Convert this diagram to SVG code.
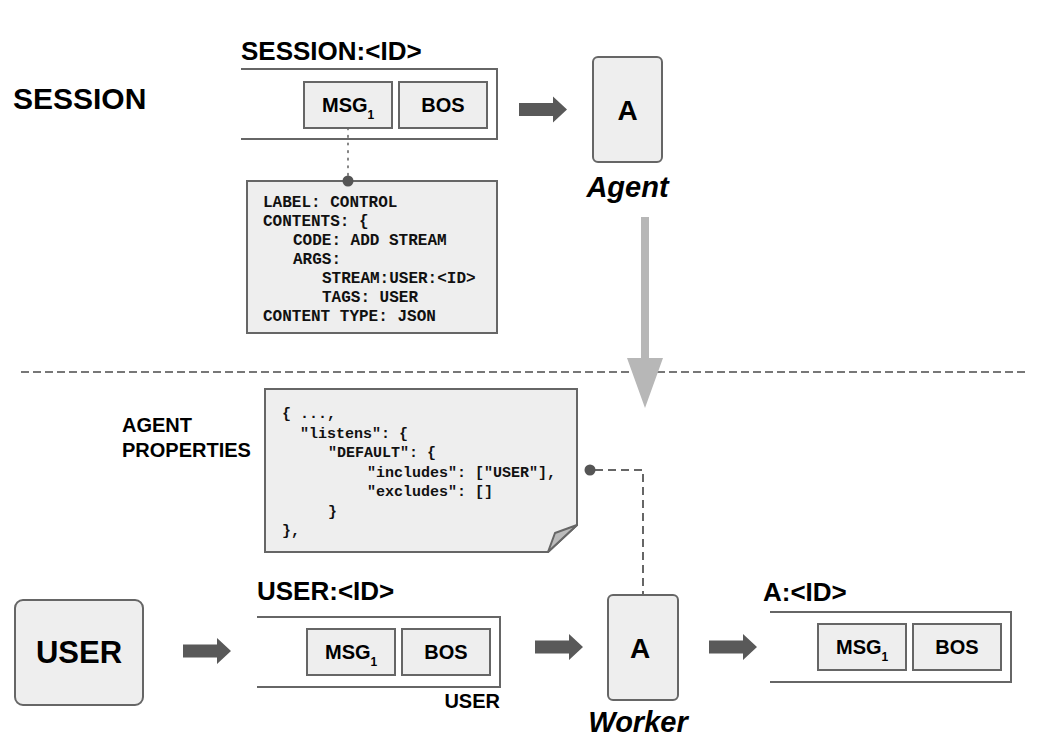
<svg xmlns="http://www.w3.org/2000/svg" width="1044" height="752" viewBox="0 0 1044 752">
<style>
.box{fill:#eeeeee;stroke:#666666;stroke-width:2}
.strm{fill:none;stroke:#666666;stroke-width:2}
.t{font-family:"Liberation Sans",Arial,sans-serif;font-weight:bold;fill:#000}
.bi{font-family:"Liberation Sans",Arial,sans-serif;font-weight:bold;font-style:italic;fill:#000}
.m{font-family:"Liberation Mono","Courier New",monospace;font-weight:bold;fill:#111}
.fat{fill:#595959}
.dash{fill:none;stroke:#666666;stroke-width:2;stroke-dasharray:8 5}
</style>
<defs>
<polygon id="fat" points="0,-6.5 34,-6.5 34,-13 48,0 34,13 34,6.5 0,6.5"/>
</defs>
<rect width="1044" height="752" fill="#ffffff"/>

<g id="labels">
<text class="t" x="13" y="109" font-size="30">SESSION</text>
<text class="t" x="122" y="432" font-size="20">AGENT</text>
<text class="t" x="122" y="457" font-size="20">PROPERTIES</text>
</g>

<g id="separator">
<line x1="21" y1="372" x2="1028" y2="372" stroke="#777777" stroke-width="2" stroke-dasharray="8 4"/>
</g>

<g id="session-stream">
<text class="t" x="241" y="60" font-size="26">SESSION:&lt;ID&gt;</text>
<path class="strm" d="M241,69 H497 V139 H241"/>
<rect class="box" x="304" y="82" width="88" height="46"/>
<text class="t" x="322" y="112" font-size="20">MSG<tspan font-size="12" dy="7">1</tspan></text>
<rect class="box" x="399" y="82" width="88" height="46"/>
<text class="t" x="443" y="112" font-size="20" text-anchor="middle">BOS</text>
</g>

<g id="agent">
<rect class="box" x="593" y="57" width="69" height="105" rx="5"/>
<text class="t" x="627.5" y="120" font-size="28" text-anchor="middle">A</text>
<text class="bi" x="627.5" y="197" font-size="29" text-anchor="middle">Agent</text>
</g>

<g id="control-msg">
<rect class="box" x="247" y="181" width="250" height="152"/>
<text class="m" font-size="16" x="263" y="207">LABEL: CONTROL</text>
<text class="m" font-size="16" x="263" y="226">CONTENTS: {</text>
<text class="m" font-size="16" x="293" y="245">CODE: ADD STREAM</text>
<text class="m" font-size="16" x="293" y="264">ARGS:</text>
<text class="m" font-size="16" x="322" y="283">STREAM:USER:&lt;ID&gt;</text>
<text class="m" font-size="16" x="322" y="302">TAGS: USER</text>
<text class="m" font-size="16" x="263" y="321">CONTENT TYPE: JSON</text>
</g>

<g id="agent-properties">
<path class="box" d="M265,389 H577 V525 L548,552 H265 Z"/>
<polygon points="577,525 548,552 555,533" fill="#bbbbbb" stroke="#666666" stroke-width="2" stroke-linejoin="round"/>
<text class="m" font-size="15" x="282" y="418">{ ...,</text>
<text class="m" font-size="15" x="300" y="438">"listens": {</text>
<text class="m" font-size="15" x="328" y="457">"DEFAULT": {</text>
<text class="m" font-size="15" x="367" y="477">"includes": ["USER"],</text>
<text class="m" font-size="15" x="367" y="496">"excludes": []</text>
<text class="m" font-size="15" x="328" y="516">}</text>
<text class="m" font-size="15" x="282" y="535">},</text>
</g>

<g id="user">
<rect class="box" x="15" y="600" width="128" height="105" rx="8"/>
<text class="t" x="79" y="663" font-size="31" text-anchor="middle">USER</text>
</g>

<g id="user-stream">
<text class="t" x="257" y="600" font-size="26">USER:&lt;ID&gt;</text>
<path class="strm" d="M257,617 H500 V687 H257"/>
<rect class="box" x="307" y="629" width="88" height="46"/>
<text class="t" x="325" y="659" font-size="20">MSG<tspan font-size="12" dy="7">1</tspan></text>
<rect class="box" x="402" y="629" width="88" height="46"/>
<text class="t" x="446" y="659" font-size="20" text-anchor="middle">BOS</text>
<text class="t" x="500" y="708" font-size="20" text-anchor="end">USER</text>
</g>

<g id="worker">
<rect class="box" x="608" y="595" width="70" height="105" rx="5"/>
<text class="t" x="640" y="658" font-size="28" text-anchor="middle">A</text>
<text class="bi" x="638" y="732" font-size="29" text-anchor="middle">Worker</text>
</g>

<g id="a-stream">
<text class="t" x="763" y="601" font-size="26">A:&lt;ID&gt;</text>
<path class="strm" d="M770,612 H1011 V682 H770"/>
<rect class="box" x="818" y="624" width="88" height="46"/>
<text class="t" x="836" y="654" font-size="20">MSG<tspan font-size="12" dy="7">1</tspan></text>
<rect class="box" x="913" y="624" width="88" height="46"/>
<text class="t" x="957" y="654" font-size="20" text-anchor="middle">BOS</text>
</g>

<g id="connectors">
<line x1="348" y1="128" x2="348" y2="177" stroke="#666666" stroke-width="1.6" stroke-dasharray="1.6 6" stroke-linecap="round"/>
<circle cx="348" cy="181" r="5.5" fill="#555555"/>
<use href="#fat" class="fat" x="519" y="109.5"/>
<path d="M641,217 H649 V358 H663 L645,408 L627,358 H641 Z" fill="#b7b7b7"/>
<path class="dash" d="M595,470 H643 V595"/>
<circle cx="590" cy="470" r="5.5" fill="#555555"/>
<use href="#fat" class="fat" x="183" y="651"/>
<use href="#fat" class="fat" x="535" y="647"/>
<use href="#fat" class="fat" x="709" y="647"/>
</g>
</svg>
